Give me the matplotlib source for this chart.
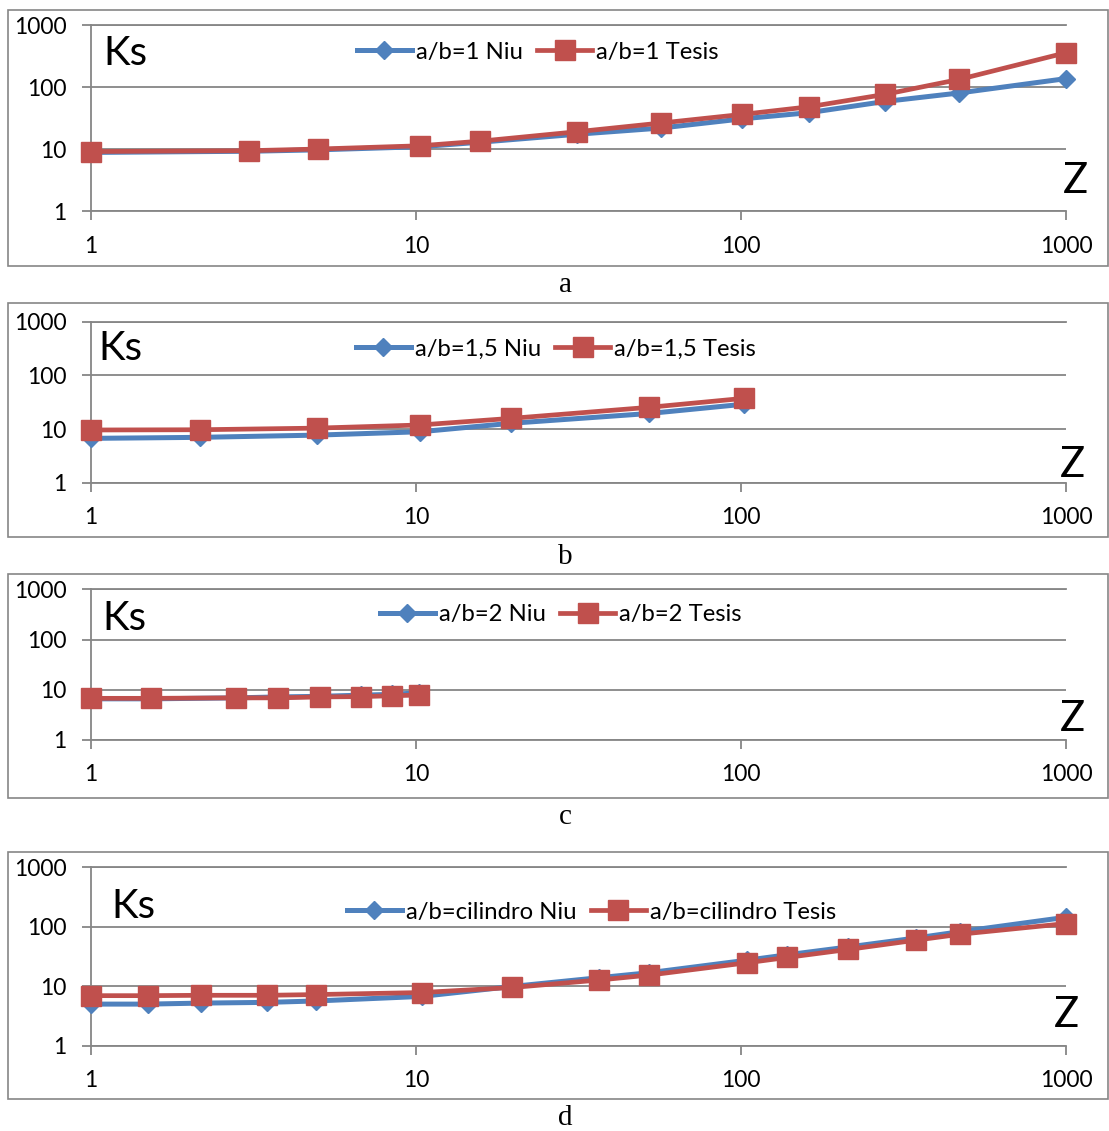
import matplotlib
matplotlib.use("Agg")
import matplotlib.pyplot as plt
from matplotlib.patches import Rectangle
from matplotlib.ticker import NullLocator, FixedLocator, FixedFormatter

# ---------------- data ----------------
za = [1, 3.07, 5.0, 10.3, 15.7, 31.3, 56.6, 101, 162, 277, 469, 1000]
a_niu = [8.9, 9.3, 9.8, 11.0, 13.0, 17.5, 22.0, 31, 39, 59, 81, 138]
a_tesis = [9.2, 9.5, 10.1, 11.4, 13.5, 19.2, 26.5, 36.6, 48.5, 76.8, 134, 361]

zb = [1, 2.16, 4.95, 10.3, 19.6, 52.2, 102]
b_niu = [6.7, 7.0, 7.7, 8.9, 12.8, 19.5, 29]
b_tesis = [9.6, 9.7, 10.4, 11.9, 15.8, 25.4, 37.3]

zc = [1, 1.53, 2.79, 3.77, 5.05, 6.76, 8.44, 10.2]
c_niu = [6.6, 6.6, 6.9, 7.2, 7.4, 7.8, 8.1, 8.7]
c_tesis = [6.75, 6.75, 6.9, 6.9, 7.2, 7.3, 7.6, 7.85]

zd = [1, 1.5, 2.18, 3.48, 4.92, 10.4, 19.8, 36.5, 52.2, 104, 139, 214, 345, 472, 1000]
d_niu = [5.05, 5.05, 5.25, 5.4, 5.7, 6.8, 10.0, 14.0, 17.0, 27.5, 34, 46, 65, 83, 145]
d_tesis = [7.0, 7.0, 7.1, 7.1, 7.3, 7.9, 9.6, 12.8, 15.5, 24.9, 30.7, 41.8, 59.7, 75.2, 113.6]

labels_niu = ["a/b=1 Niu", "a/b=1,5 Niu", "a/b=2 Niu", "a/b=cilindro Niu"]
labels_tesis = ["a/b=1 Tesis", "a/b=1,5 Tesis", "a/b=2 Tesis", "a/b=cilindro Tesis"]
captions = ["a", "b", "c", "d"]
ticks = [1, 10, 100, 1000]
tick_labels = ["1", "10", "100", "1000"]

# ---------------- layout (pixels) ----------------
W, H = 1109, 1131
plt.rcParams['font.family'] = ['Lato', 'DejaVu Sans']
fig = plt.figure(figsize=(W / 100, H / 100), dpi=100)

def fx(px):
    return px / W

def fy(py):
    return 1 - py / H

BLUE = '#4F81BD'
RED = '#C0504D'
GREY = '#868686'
FS = 16.5
LFS = 17.2

panels = [
    dict(z=za, niu=a_niu, tes=a_tesis, frame=(10, 266), y1000=25.3, y1=211.3,
         ks=(103, 65), zl=(1063, 193), leg=(357, 52), cap=285),
    dict(z=zb, niu=b_niu, tes=b_tesis, frame=(303, 537), y1000=321.7, y1=482.7,
         ks=(98, 360), zl=(1060, 477), leg=(356, 349), cap=557),
    dict(z=zc, niu=c_niu, tes=c_tesis, frame=(574, 798), y1000=589.3, y1=740,
         ks=(102, 630), zl=(1060, 731), leg=(380, 615), cap=817),
    dict(z=zd, niu=d_niu, tes=d_tesis, frame=(852, 1099), y1000=867.3, y1=1046,
         ks=(111, 918), zl=(1054, 1027), leg=(347, 912), cap=1118),
]

for i, p in enumerate(panels):
    top, bot = p['frame']
    fig.patches.append(Rectangle((fx(7.5), fy(bot)), fx(1108) - fx(7.5), fy(top) - fy(bot),
                                 transform=fig.transFigure, fill=False,
                                 edgecolor=GREY, linewidth=1.2))
    ax = fig.add_axes([fx(91), fy(p['y1']), fx(1066) - fx(91), fy(p['y1000']) - fy(p['y1'])])
    ax.set_xscale('log')
    ax.set_yscale('log')
    ax.set_xlim(1, 1000)
    ax.set_ylim(1, 1000)
    ax.plot(p['z'], p['niu'], color=BLUE, lw=3.6, marker='D', ms=9.2,
            mec=BLUE, mfc=BLUE, label=labels_niu[i], clip_on=False, zorder=3)
    ax.plot(p['z'], p['tes'], color=RED, lw=3.4, marker='s', ms=14,
            mec=RED, mfc=RED, label=labels_tesis[i], clip_on=False, zorder=4)
    ax.spines['right'].set_visible(False)
    for s in ['left', 'bottom', 'top']:
        ax.spines[s].set_color(GREY)
        ax.spines[s].set_linewidth(1.3)
    ax.yaxis.grid(True, color=GREY, lw=1.3)
    ax.set_axisbelow(True)
    for axis in (ax.xaxis, ax.yaxis):
        axis.set_major_locator(FixedLocator(ticks))
        axis.set_major_formatter(FixedFormatter(tick_labels))
        axis.set_minor_locator(NullLocator())
    ax.tick_params(axis='y', which='major', direction='out', length=6.5, width=1.3,
                   color=GREY, labelsize=FS, pad=11)
    ax.tick_params(axis='x', which='major', direction='out', length=6.5, width=1.3,
                   color=GREY, labelsize=FS, pad=11)
    ax.patch.set_alpha(0)

    lx, ly = p['leg']
    ax.legend(loc='center left', bbox_to_anchor=(fx(lx), fy(ly)),
              bbox_transform=fig.transFigure, ncol=2, frameon=False,
              fontsize=LFS, handlelength=2.3, handletextpad=0.17,
              columnspacing=0.6, borderpad=0, borderaxespad=0)

    fig.text(fx(p['ks'][0]), fy(p['ks'][1]), 'Ks', fontsize=29, ha='left', va='baseline')
    fig.text(fx(p['zl'][0]), fy(p['zl'][1]), 'Z', fontsize=30, ha='left', va='baseline')
    fig.text(fx(565), fy(p['cap']), captions[i], fontsize=21, ha='center', va='center',
             family='Liberation Serif')

fig.savefig('out.png', dpi=100)
